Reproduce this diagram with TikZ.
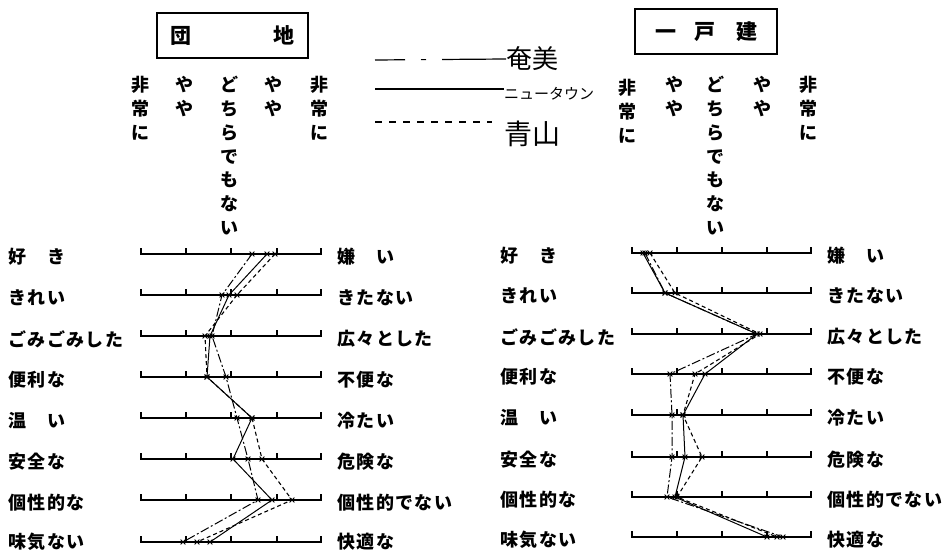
\documentclass[tikz,border=0pt]{standalone}
\usepackage{fontspec}
\usetikzlibrary{shapes.misc}
\newfontfamily\jp{Noto Sans CJK JP}
\newfontfamily\jpsp{Noto Sans CJK JP}[LetterSpace=8]
\newcommand\defseries[2]{\foreach \xx/\yy [count=\ii] in {#2} {\coordinate (#1\ii) at (\xx,\yy);}}
\tikzset{
  ama/.style={line width=1pt, dash pattern=on 9pt off 2.5pt on 2pt off 2.5pt},
  ntl/.style={line width=1pt},
  aoy/.style={line width=1.1pt, dash pattern=on 4pt off 3pt},
  scaleline/.style={line width=1.5pt},
  tick/.style={line width=1.3pt},
  lab/.style={font=\jpsp\bfseries\fontsize{18}{18}\selectfont, inner sep=0pt, anchor=west},
  colhead/.style={font=\jp\bfseries\fontsize{18}{23.8}\selectfont, align=center, inner sep=0pt, anchor=north},
  mk/.style={cross out, draw, minimum size=4pt, inner sep=0pt, line width=0.8pt},
  titlebox/.style={draw, line width=1.2pt, inner sep=0pt, font=\jp\bfseries\fontsize{21}{21}\selectfont},
}
\begin{document}
\begin{tikzpicture}[x=1pt, y=-1pt]
\useasboundingbox (0,0) rectangle (951,553);
\fill[white] (0,0) rectangle (951,553);

% title boxes
\node[titlebox, minimum width=151pt, minimum height=45pt] (tdanchi) at (232.5,35.5) {団\hspace{82pt}地};
\node[titlebox, minimum width=142pt, minimum height=45pt] (tikko) at (706,31.5) {一\hspace{18pt}戸\hspace{21pt}建};

% legend
\coordinate (lgA) at (375,60);
\coordinate (lgB) at (375,89);
\coordinate (lgC) at (375,122);
\node[inner sep=0pt, anchor=west, font=\jp\fontsize{26}{26}\selectfont] (lgtA) at (506,59) {奄美};
\node[inner sep=0pt, anchor=west, font=\jp\fontsize{15}{15}\selectfont] (lgtB) at (504,94) {ニュータウン};
\node[inner sep=0pt, anchor=west, font=\jp\fontsize{28}{28}\selectfont] (lgtC) at (504,134) {青山};
\draw[line width=1.2pt, dash pattern=on 30pt off 16pt on 5pt off 16pt on 80pt] (lgA) -- (lgtA.west);
\draw[line width=1.1pt] (lgB) -- (lgtB.west |- lgB);
\draw[line width=1.2pt, dash pattern=on 7pt off 7pt] (lgC) -- (492,122);

% column headers left
\node[colhead] (hL1) at (140,76) {非\\常\\に};
\node[colhead] (hL2) at (184,76) {や\\や};
\node[colhead] (hL3) at (229,76) {ど\\ち\\ら\\で\\も\\な\\い};
\node[colhead] (hL4) at (273,76) {や\\や};
\node[colhead] (hL5) at (319,76) {非\\常\\に};
% column headers right
\node[colhead] (hR1) at (627,79) {非\\常\\に};
\node[colhead] (hR2) at (674,76) {や\\や};
\node[colhead] (hR3) at (715,76) {ど\\ち\\ら\\で\\も\\な\\い};
\node[colhead] (hR4) at (762,76) {や\\や};
\node[colhead] (hR5) at (808,76) {非\\常\\に};

% scales left
\foreach \y in {254,295,336,377,418,459,500,542} {
  \draw[scaleline] (140,\y) -- (322,\y);
  \foreach \x in {141,186,231,277,321} \draw[tick] (\x,\y) -- (\x,\y-6);
}
% scales right
\foreach \y in {253,293,334,374,415,457,497,537} {
  \draw[scaleline] (631,\y) -- (812,\y);
  \foreach \x in {632,677,722,767,811} \draw[tick] (\x,\y) -- (\x,\y-6);
}

% row labels left panel
\foreach \t/\y [count=\k] in {好　き/257,きれい/298,ごみごみした/339,便利な/380,温　い/421,安全な/462,個性的な/503,味気ない/542}
  \node[lab] (lL\k) at (8,\y) {\t};
\foreach \t/\y [count=\k] in {嫌　い/257,きたない/298,広々とした/339,不便な/380,冷たい/421,危険な/462,個性的でない/503,快適な/542}
  \node[lab] (rL\k) at (337,\y) {\t};
% row labels right panel
\foreach \t/\y [count=\k] in {好　き/256,きれい/296,ごみごみした/337,便利な/377,温　い/418,安全な/460,個性的な/500,味気ない/540}
  \node[lab] (lR\k) at (500,\y) {\t};
\foreach \t/\y [count=\k] in {嫌　い/256,きたない/296,広々とした/337,不便な/377,冷たい/418,危険な/460,個性的でない/500,快適な/540}
  \node[lab] (rR\k) at (827,\y) {\t};

% data left (団地)
\defseries{LA}{252/254,222/295,212/336,226/377,237/418,248/459,258/500,183/542}
\defseries{LB}{275/254,237/295,205/336,207/377,252/418,262/459,292/500,197/542}
\defseries{LC}{267/254,229/295,210/336,207/377,252/418,233/459,272/500,210/542}
% data right (一戸建)
\defseries{RA}{645/253,665/293,757/334,670/374,672/415,672/457,667/497,783/537}
\defseries{RB}{650/253,675/293,760/334,695/374,683/415,702/457,677/497,777/537}
\defseries{RC}{643/253,665/293,757/334,705/374,683/415,685/457,675/497,767/537}

\draw[ama] (LA1) \foreach \i in {2,...,8}{ -- (LA\i)};
\draw[aoy] (LB1) \foreach \i in {2,...,8}{ -- (LB\i)};
\draw[ntl] (LC1) \foreach \i in {2,...,8}{ -- (LC\i)};
\draw[ama] (RA1) \foreach \i in {2,...,8}{ -- (RA\i)};
\draw[aoy] (RB1) \foreach \i in {2,...,8}{ -- (RB\i)};
\draw[ntl] (RC1) \foreach \i in {2,...,8}{ -- (RC\i)};

\foreach \s in {LA,LB,LC,RA,RB,RC}
  \foreach \i in {1,...,8}
    \node[mk, name=m\s\i] at (\s\i) {};
\end{tikzpicture}
\end{document}
